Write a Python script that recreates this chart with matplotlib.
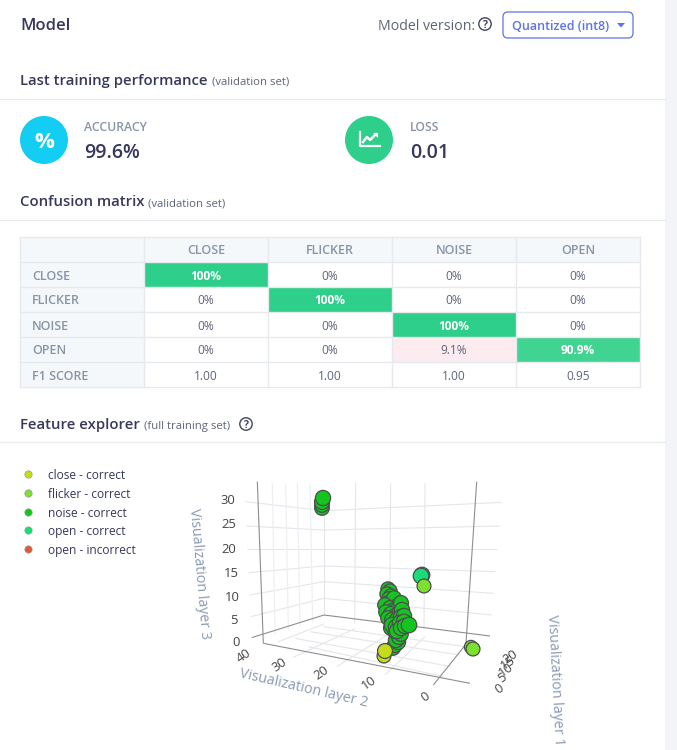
import matplotlib
matplotlib.use("Agg")
import matplotlib.pyplot as plt
from matplotlib.patches import Circle, FancyBboxPatch, Polygon, Rectangle

plt.rcParams["font.family"] = ["Open Sans", "DejaVu Sans"]

DARK = "#36385c"
GREY = "#8794a8"
TEXT = "#5d6579"
LINE = "#e8ebef"

# confusion matrix
labels = ["CLOSE", "FLICKER", "NOISE", "OPEN"]
matrix = [
    [100, 0, 0, 0],
    [0, 100, 0, 0],
    [0, 0, 100, 0],
    [0, 0, 9.1, 90.9],
]
f1_scores = [1.00, 1.00, 1.00, 0.95]

# legend
legend_names = ["close - correct", "flicker - correct", "noise - correct",
                "open - correct", "open - incorrect"]
legend_colors = ["#c4dc1a", "#7ce02f", "#13c51f", "#1bdc78", "#e05a3a"]

# feature explorer points (pixels)
close_x = [384, 385]
close_y = [656, 651]
close_s = [100, 115]
flicker_x = [471, 473, 424]
flicker_y = [647, 649, 586]
flicker_s = [90, 100, 100]
top_x = [322, 322, 322, 323]
top_y = [508, 505, 502, 498]
top_s = [110, 110, 115, 120]
noise_x = [393, 395, 398, 396, 399, 401, 388, 390, 387, 391, 389, 393, 388, 392, 396, 394,
           397, 385, 390, 394, 398, 401, 386, 391, 395, 400, 402, 388, 392, 397,
           401, 404, 391, 395, 392, 396, 400, 404, 397, 401, 405, 409]
noise_y = [648, 645, 642, 640, 637, 634, 589, 591, 594, 596, 599, 600, 603, 604, 602, 598,
           606, 605, 608, 610, 609, 603, 612, 614, 616, 612, 610, 618, 620, 620,
           617, 616, 628, 631, 625, 627, 623, 622, 631, 628, 626, 625]
noise_s = [110, 115, 120, 120, 115, 110, 105, 105, 105, 105, 110, 110, 110, 110, 110, 110,
           110, 110, 110, 115, 115, 115, 110, 115, 115, 120, 120, 110, 115, 120,
           120, 120, 115, 115, 120, 120, 125, 125, 120, 120, 120, 125]
open_x = [422, 421]
open_y = [575, 576]
open_s = [125, 125]

# 3d scene lines
z_wall_left = [95, 168, 238, 308, 375, 440]
z_wall_back = [122, 180, 238, 288, 335, 385]
z_wall_right = [97, 168, 238, 305, 370, 435]
z_ticks = ["30", "25", "20", "15", "10", "5", "0"]
y_ticks = ["40", "30", "20", "10", "0"]
x_ticks = ["20", "15", "10", "5", "0"]


def z(x, y):
    # picture position inside the 3d area
    return 180 + x / 3, 470 + y / 3


def seg(ax, a, b, color="#e4e6ea", lw=0.8):
    p, q = z(*a), z(*b)
    ax.plot([p[0], q[0]], [p[1], q[1]], color=color, lw=lw, zorder=1,
            solid_capstyle="butt")


def help_icon(ax, x, y):
    ax.add_patch(Circle((x, y), 6.2, fc="white", ec="#3f4560", lw=1.0))
    ax.text(x, y, "?", fontsize=7.5, color="#3f4560", ha="center", va="center_baseline",
            weight="bold")


def heading(ax, y, title, note):
    t = ax.text(20, y, title, fontsize=10.7, color=DARK, va="center_baseline", weight=600)
    ax.figure.canvas.draw()
    box = t.get_window_extent()
    ax.text(box.x1 + 4, y + 1, note, fontsize=8.2, color=TEXT, va="center_baseline")


def draw_header(ax):
    ax.text(20, 24, "Model", fontsize=12, color=DARK, va="center_baseline", weight=600)
    ax.text(378, 24, "Model version:", fontsize=10.2, color=TEXT, va="center_baseline")
    help_icon(ax, 485, 24)
    ax.add_patch(FancyBboxPatch((503, 12), 130, 26, boxstyle="round,pad=0,rounding_size=5",
                                fc="white", ec="#5f72e6", lw=0.9))
    ax.text(512, 25, "Quantized (int8)", fontsize=9, color="#5f72e6", va="center_baseline",
            weight=600)
    ax.add_patch(Polygon([(617, 23), (625, 23), (621, 27.5)], fc="#5f72e6", ec="none"))


def draw_metrics(ax):
    heading(ax, 80, "Last training performance", "(validation set)")
    ax.plot([0, 665], [99, 99], color=LINE, lw=1)
    ax.add_patch(Circle((44, 140), 24, fc="#14cdf2", ec="none"))
    ax.text(44, 140, "%", fontsize=16, color="white", ha="center", va="center_baseline",
            weight="bold")
    ax.text(84, 126, "ACCURACY", fontsize=8.8, color=GREY, va="center_baseline", weight=600)
    ax.text(84, 150, "99.6%", fontsize=14, color=DARK, va="center_baseline", weight=600)

    ax.add_patch(Circle((369, 140), 24, fc="#2ecf8a", ec="none"))
    ax.plot([360, 360, 379.5], [132, 146, 146], color="white", lw=1.6)
    ax.plot([363, 367, 370, 376], [142, 137, 140, 134], color="white", lw=1.8)
    ax.add_patch(Polygon([(373, 133), (378, 133), (378, 138)], fc="white", ec="none"))
    ax.text(410, 126, "LOSS", fontsize=8.8, color=GREY, va="center_baseline", weight=600)
    ax.text(410, 150, "0.01", fontsize=14, color=DARK, va="center_baseline", weight=600)


def draw_table(ax):
    heading(ax, 201, "Confusion matrix", "(validation set)")
    ax.plot([0, 665], [220, 220], color=LINE, lw=1)

    left, first, cw, top, rh = 20, 144, 124, 237, 25
    head_bg = "#f5f8fb"
    n_rows = len(matrix) + 2
    ax.add_patch(Rectangle((left, top), first - left + cw * 4, rh, fc=head_bg, ec="none"))
    ax.add_patch(Rectangle((left, top), first - left, rh * n_rows, fc=head_bg, ec="none"))

    for c, name in enumerate(labels):
        ax.text(first + cw * (c + 0.5), top + rh / 2, name, fontsize=9, color=GREY,
                ha="center", va="center_baseline", weight=600)
    for r, row in enumerate(matrix):
        y = top + rh * (r + 1)
        ax.text(32, y + rh / 2, labels[r], fontsize=9, color=GREY, va="center_baseline", weight=600)
        for c, val in enumerate(row):
            color, weight = TEXT, "normal"
            if val > 50:
                ax.add_patch(Rectangle((first + cw * c, y), cw, rh,
                                       fc="#2ecf8a" if val == 100 else "#41d392", ec="none"))
                color, weight = "white", "bold"
            elif val > 0:
                ax.add_patch(Rectangle((first + cw * c, y), cw, rh, fc="#fcecef", ec="none"))
            ax.text(first + cw * (c + 0.5), y + rh / 2, f"{val:g}%", fontsize=8.6, color=color,
                    ha="center", va="center_baseline", weight=weight)
    y = top + rh * 5
    ax.text(32, y + rh / 2, "F1 SCORE", fontsize=9, color=GREY, va="center_baseline", weight=600)
    for c, val in enumerate(f1_scores):
        ax.text(first + cw * (c + 0.5), y + rh / 2, f"{val:.2f}", fontsize=8.6, color=TEXT,
                ha="center", va="center_baseline")

    # grid
    for i in range(n_rows + 1):
        ax.plot([left, first + cw * 4], [top + rh * i] * 2, color="#e6eaef", lw=1, zorder=3)
    for x in [left] + [first + cw * i for i in range(5)]:
        ax.plot([x, x], [top, top + rh * n_rows], color="#e6eaef", lw=1, zorder=3)


def draw_legend(ax):
    heading(ax, 424, "Feature explorer", "(full training set)")
    help_icon(ax, 246, 424)
    ax.plot([0, 665], [442, 442], color=LINE, lw=1)
    for i, name in enumerate(legend_names):
        y = 474 + i * 18.8
        ax.scatter([28], [y], s=28, color=legend_colors[i], edgecolors="#9a9a9a", linewidths=0.5)
        ax.text(48, y, name, fontsize=8.6, color=DARK, va="center_baseline")


def draw_scene(ax):
    # walls
    for yl, yb, yr in zip(z_wall_left, z_wall_back, z_wall_right):
        seg(ax, (195 + (yl - 95) * 0.05, yl), (432, yb))
        seg(ax, (432, yb), (965 - (yr - 97) * 0.09, yr))
    for x in [277, 317, 352, 390]:
        seg(ax, (x, 40), (x + 8, 500 - (x - 250) * 0.3), color="#eceef1")
    seg(ax, (432, 95), (432, 435))
    for x in [527, 632, 735]:
        seg(ax, (x, 40), (x - 3, 460 + (x - 527) * 0.07))

    # floor
    for a, b in [((295, 515), (432, 462)), ((340, 562), (525, 476)), ((470, 590), (630, 490)),
                 ((615, 615), (735, 500)), ((385, 530), (790, 620)), ((345, 505), (815, 590)),
                 ((390, 485), (840, 555)), ((430, 470), (855, 530))]:
        seg(ax, a, b)

    # axis lines
    dark = "#8e8e8e"
    seg(ax, (232, 35), (250, 520), color=dark)
    seg(ax, (890, 35), (858, 520), color=dark)
    seg(ax, (215, 503), (432, 435), color=dark)
    seg(ax, (432, 435), (930, 498), color=dark)
    seg(ax, (250, 520), (870, 640), color=dark)
    seg(ax, (760, 645), (860, 520), color=dark)

    # points
    edge = "#4d4d4d"
    ax.scatter(top_x, top_y, s=top_s, color=legend_colors[2], edgecolors=edge,
               linewidths=0.9, zorder=4)
    ax.scatter(open_x, open_y, s=open_s, color=legend_colors[3], edgecolors=edge,
               linewidths=0.9, zorder=4)
    ax.scatter(flicker_x, flicker_y, s=flicker_s, color=legend_colors[1], edgecolors=edge,
               linewidths=0.9, zorder=4)
    ax.scatter(noise_x, noise_y, s=noise_s, color=legend_colors[2], edgecolors=edge,
               linewidths=0.9, zorder=4)
    ax.scatter(close_x, close_y, s=close_s, color=legend_colors[0], edgecolors=edge,
               linewidths=0.9, zorder=5)

    # tick labels
    tick_color = "#444444"
    z_pos = [(143, 90), (147, 165), (147, 238), (153, 310), (158, 382), (163, 450), (167, 518)]
    for label, (x, y) in zip(z_ticks, z_pos):
        ax.text(*z(x, y), label, fontsize=9.4, color=tick_color, ha="center", va="center")
    y_pos = [(190, 558), (298, 585), (425, 610), (568, 640), (735, 680)]
    for label, (x, y) in zip(y_ticks, y_pos):
        ax.text(*z(x, y), label, fontsize=9.4, color=tick_color, ha="center", va="center",
                rotation=35, rotation_mode="anchor")
    x_pos = [(990, 560), (985, 578), (977, 600), (967, 625), (958, 657)]
    for label, (x, y) in zip(x_ticks, x_pos):
        ax.text(*z(x, y), label, fontsize=9.4, color=tick_color, ha="center", va="center",
                rotation=35, rotation_mode="anchor")

    # axis titles
    title_color = "#8a9ab5"
    ax.text(*z(58, 310), "Visualization layer 3", fontsize=10.3, color=title_color, ha="center",
            va="center", rotation=-85, rotation_mode="anchor")
    ax.text(*z(372, 655), "Visualization layer 2", fontsize=10.3, color=title_color, ha="center",
            va="center", rotation=-13, rotation_mode="anchor")
    ax.text(*z(1125, 630), "Visualization layer 1", fontsize=10.3, color=title_color, ha="center",
            va="center", rotation=-87, rotation_mode="anchor")


def main():
    fig = plt.figure(figsize=(6.77, 7.5), dpi=100)
    ax = fig.add_axes([0, 0, 1, 1])
    ax.set_xlim(0, 677)
    ax.set_ylim(750, 0)
    ax.axis("off")

    ax.add_patch(Rectangle((665, 0), 12, 750, fc="#f3f4f7", ec="none"))
    draw_header(ax)
    draw_metrics(ax)
    draw_table(ax)
    draw_legend(ax)
    draw_scene(ax)

    fig.savefig("out.png", dpi=100)


if __name__ == "__main__":
    main()
